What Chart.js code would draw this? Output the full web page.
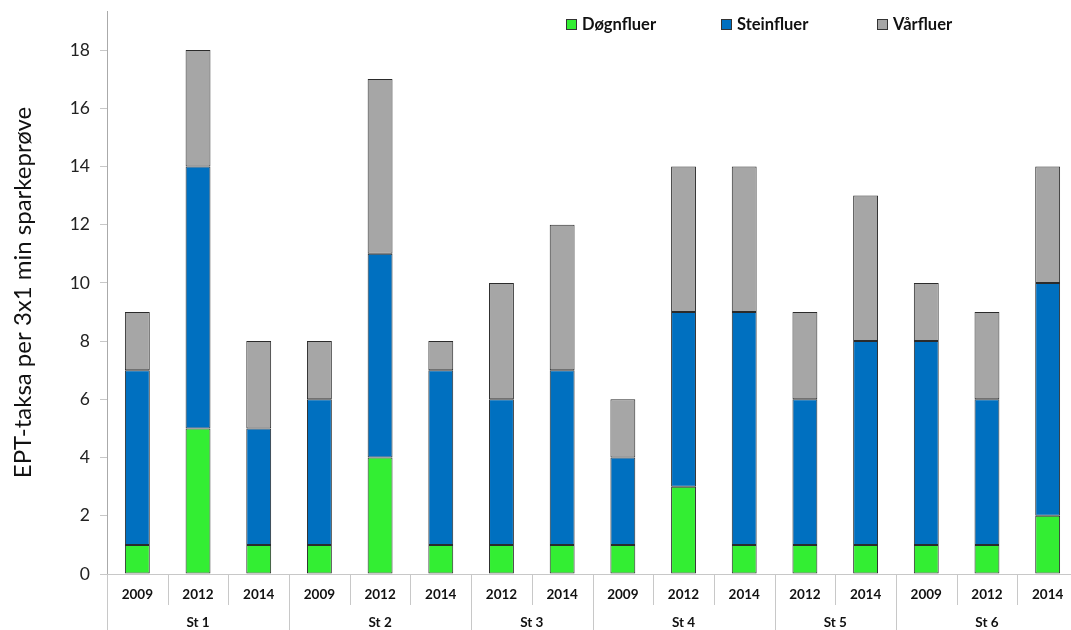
<!DOCTYPE html>
<html>
<head>
<meta charset="utf-8">
<script src="https://cdn.jsdelivr.net/npm/chart.js@4/dist/chart.umd.min.js"></script>
<style>
  body { margin: 0; overflow: hidden; background: #fff; }
  #wrap { width: 1080px; height: 630px; }
</style>
</head>
<body>
<div id="wrap"><canvas id="ept" width="1080" height="630"></canvas></div>
<script>
// bar categories (year within station)
const years = ["2009", "2012", "2014", "2009", "2012", "2014", "2012", "2014",
  "2009", "2012", "2014", "2012", "2014", "2009", "2012", "2014"];
const stations = ["St 1", "St 2", "St 3", "St 4", "St 5", "St 6"];
const stationSizes = [3, 3, 2, 3, 2, 3];

const dognfluer = [1, 5, 1, 1, 4, 1, 1, 1, 1, 3, 1, 1, 1, 1, 1, 2];
const steinfluer = [6, 9, 4, 5, 7, 6, 5, 6, 3, 6, 8, 5, 7, 7, 5, 8];
const varfluer = [2, 4, 3, 2, 6, 1, 4, 5, 2, 5, 5, 3, 5, 2, 3, 4];

const yTicks = [0, 2, 4, 6, 8, 10, 12, 14, 16, 18];

const FONT = "Lato, 'Open Sans', sans-serif";

// legend drawn inside the plot area, spread out like the original
const legendPlugin = {
  id: "insideLegend",
  afterDraw(chart) {
    const ctx = chart.ctx;
    const xs = [566, 721, 877];
    ctx.save();
    ctx.font = "bold 16.5px " + FONT;
    ctx.textBaseline = "middle";
    chart.data.datasets.forEach((ds, i) => {
      ctx.fillStyle = ds.backgroundColor;
      ctx.strokeStyle = "#333";
      ctx.lineWidth = 1;
      ctx.fillRect(xs[i], 19, 11, 11);
      ctx.strokeRect(xs[i] + 0.5, 19.5, 10, 10);
      ctx.fillStyle = "#111";
      ctx.fillText(ds.label, xs[i] + 16, 25);
    });
    ctx.restore();
  }
};

// two-level category axis: years, then stations
const groupAxisPlugin = {
  id: "groupAxis",
  afterDraw(chart) {
    const ctx = chart.ctx;
    const x = chart.scales.x;
    const top = x.top;
    const half = (x.getPixelForValue(1) - x.getPixelForValue(0)) / 2;
    ctx.save();
    ctx.strokeStyle = "#c8c8c8";
    ctx.lineWidth = 1;
    ctx.fillStyle = "#111";
    ctx.font = "bold 13.5px " + FONT;
    ctx.textAlign = "center";
    ctx.textBaseline = "middle";
    // year separators + labels
    years.forEach((y, i) => {
      const c = x.getPixelForValue(i);
      ctx.fillText(y, c, top + 21);
      const b = Math.round(c + half) + 0.5;
      ctx.beginPath();
      ctx.moveTo(b, top);
      ctx.lineTo(b, top + 31);
      ctx.stroke();
    });
    // station separators + labels
    let start = 0;
    const edge = Math.round(x.getPixelForValue(0) - half) + 0.5;
    ctx.beginPath();
    ctx.moveTo(edge, top);
    ctx.lineTo(edge, chart.height);
    ctx.stroke();
    stations.forEach((s, g) => {
      const end = start + stationSizes[g] - 1;
      const mid = (x.getPixelForValue(start) + x.getPixelForValue(end)) / 2;
      ctx.fillText(s, mid, top + 49);
      const b = Math.round(x.getPixelForValue(end) + half) + 0.5;
      ctx.beginPath();
      ctx.moveTo(b, top);
      ctx.lineTo(b, chart.height);
      ctx.stroke();
      start = end + 1;
    });
    ctx.restore();
  }
};

new Chart(document.getElementById("ept").getContext("2d"), {
  type: "bar",
  data: {
    labels: years,
    datasets: [
      { label: "Døgnfluer", data: dognfluer, backgroundColor: "#33ee33" },
      { label: "Steinfluer", data: steinfluer, backgroundColor: "#0070c0" },
      { label: "Vårfluer", data: varfluer, backgroundColor: "#a6a6a6" },
    ].map((d) => Object.assign(d, {
      borderColor: "#2b2b2b",
      borderWidth: 1,
      borderSkipped: false,
      barPercentage: 0.41,
      categoryPercentage: 1,
    })),
  },
  options: {
    responsive: false,
    animation: false,
    layout: { padding: { top: 11, right: 2, left: 0, bottom: 0 } },
    plugins: {
      legend: { display: false },
      tooltip: { enabled: false },
    },
    scales: {
      x: {
        stacked: true,
        ticks: { display: false },
        grid: { display: false },
        border: { display: true, color: "#c8c8c8" },
        afterFit(scale) { scale.height = 56; },
      },
      y: {
        stacked: true,
        min: 0,
        max: 19.34,
        afterBuildTicks(scale) { scale.ticks = yTicks.map((v) => ({ value: v })); },
        ticks: { font: { family: FONT, size: 17.5 }, color: "#222", padding: 10 },
        grid: { drawOnChartArea: false, tickLength: 7, color: "#c8c8c8" },
        border: { color: "#aaa" },
        title: {
          display: true,
          text: "EPT-taksa per 3x1 min sparkeprøve",
          font: { family: FONT, size: 24 },
          color: "#111",
          padding: { top: 9, bottom: 0 },
        },
        afterFit(scale) {
          scale.width = 107;
          scale.paddingTop = 0;
        },
      },
    },
  },
  plugins: [legendPlugin, groupAxisPlugin],
});
</script>
</body>
</html>
